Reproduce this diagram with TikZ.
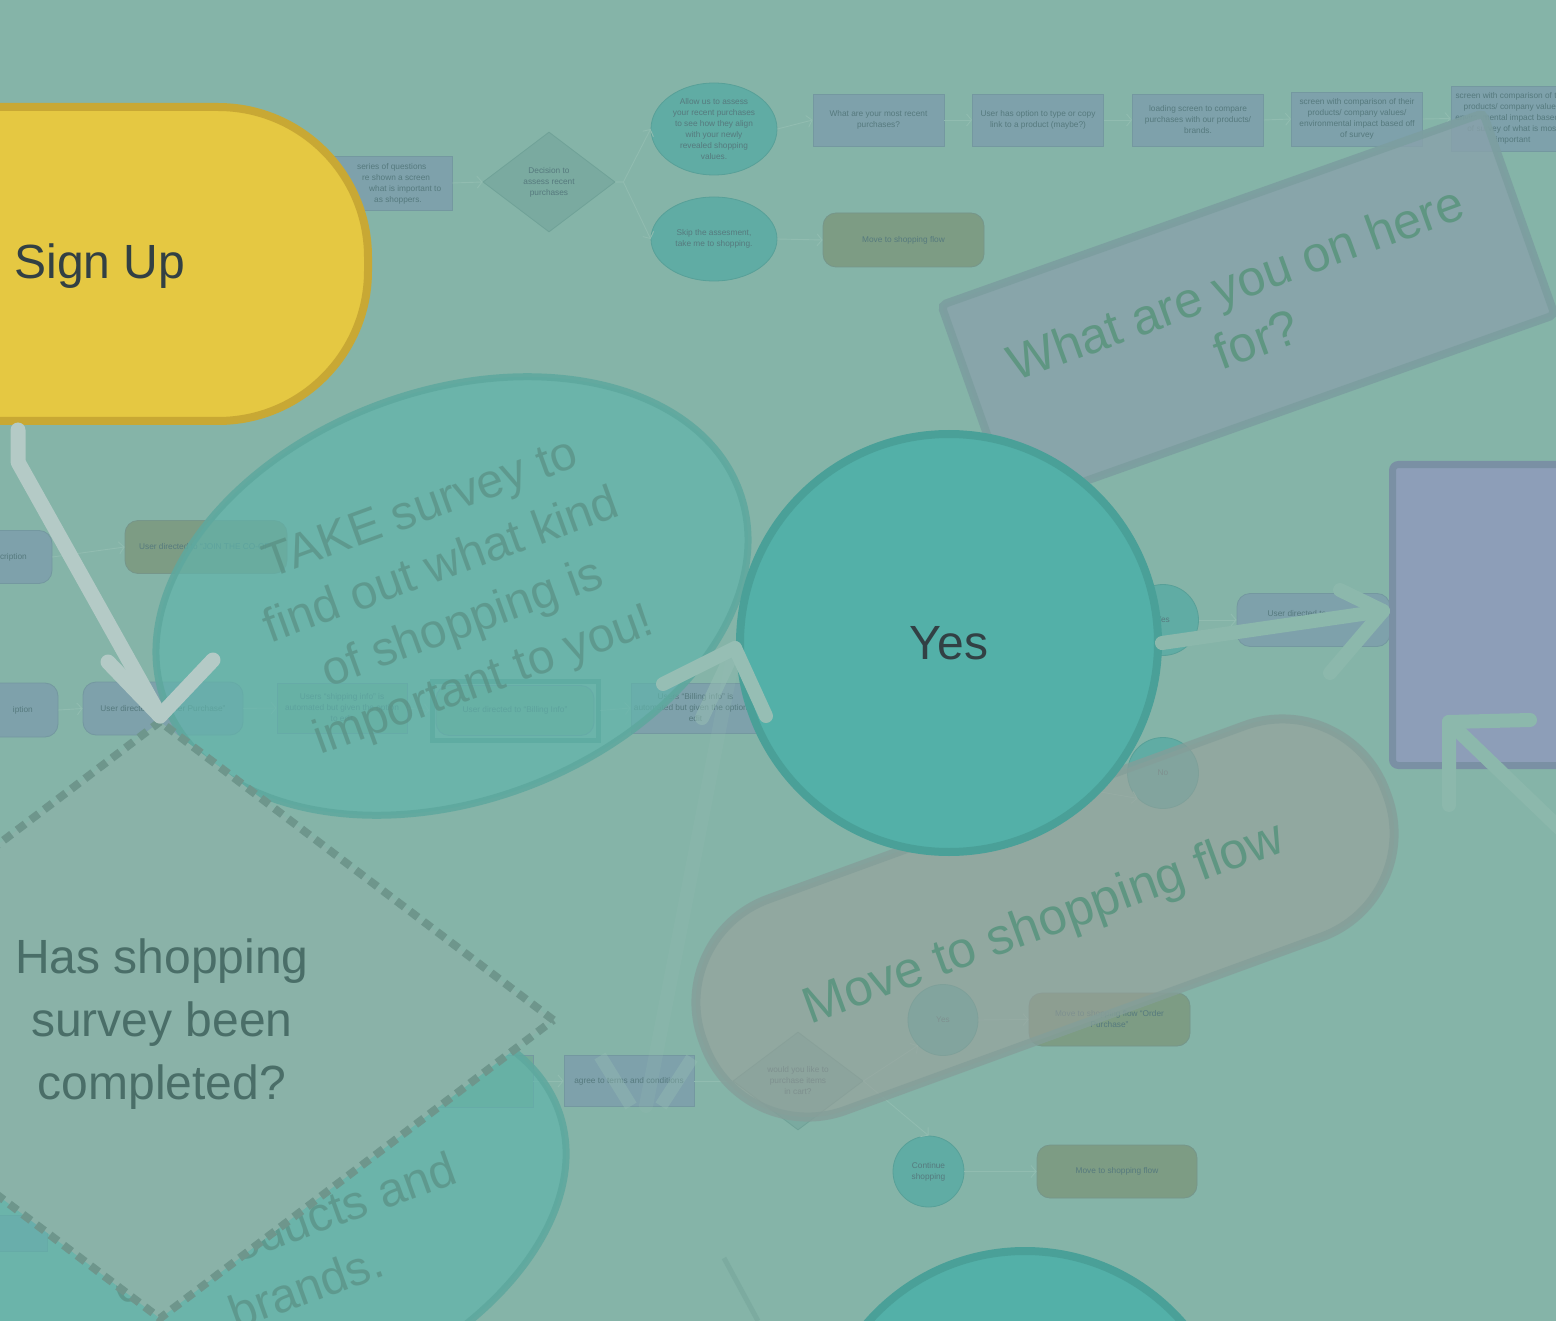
\documentclass[tikz,border=0pt]{standalone}
\usepackage{fontspec}
\setmainfont{Liberation Sans}
\usetikzlibrary{shapes.geometric,arrows.meta}
\definecolor{bgc}{RGB}{133,180,168}
\definecolor{sblue}{RGB}{126,161,171}
\definecolor{sblueln}{RGB}{116,152,160}
\definecolor{sgrnf}{RGB}{118,170,152}
\definecolor{solive}{RGB}{125,156,132}
\definecolor{soliveln}{RGB}{118,150,138}
\definecolor{steal}{RGB}{96,172,164}
\definecolor{stealln}{RGB}{88,160,152}
\definecolor{sdiam}{RGB}{122,170,160}
\definecolor{sdiamln}{RGB}{112,162,152}
\definecolor{stxt}{RGB}{86,122,126}
\definecolor{sarrc}{RGB}{145,188,176}
\definecolor{shl}{RGB}{92,156,142}
\definecolor{signfill}{RGB}{229,200,66}
\definecolor{signln}{RGB}{200,168,52}
\definecolor{yesfill}{RGB}{83,176,168}
\definecolor{yesln}{RGB}{74,160,152}
\definecolor{darktxt}{RGB}{50,64,68}
\definecolor{ellfill}{RGB}{97,180,171}
\definecolor{ellln}{RGB}{94,168,158}
\definecolor{ovtxt}{RGB}{88,140,128}
\definecolor{whatfill}{RGB}{137,162,171}
\definecolor{whatln}{RGB}{124,158,160}
\definecolor{movefill}{RGB}{153,160,155}
\definecolor{moveln}{RGB}{132,158,153}
\definecolor{movetxt}{RGB}{95,150,130}
\definecolor{diafill}{RGB}{138,178,168}
\definecolor{dialn}{RGB}{110,150,140}
\definecolor{diatxt}{RGB}{74,110,104}
\definecolor{bluefill}{RGB}{141,158,184}
\definecolor{blueln}{RGB}{122,144,164}
\definecolor{arrlight}{RGB}{180,202,198}
\definecolor{arrmid}{RGB}{150,190,180}
\definecolor{arrbg}{RGB}{140,184,172}
\definecolor{shadowc}{RGB}{118,166,155}
\begin{document}
\begin{tikzpicture}[x=1pt,y=-1pt,
  sm/.style={font=\fontsize{8.3}{11}\selectfont, text=stxt, align=center, inner sep=0pt},
  sbox/.style={sm, rectangle, draw=sblueln, fill=sblue, line width=0.8pt},
  sgrn/.style={sm, rectangle, draw=sblueln, fill=sgrnf, line width=0.8pt},
  sgrnrnd/.style={sm, rectangle, rounded corners=13pt, draw=sblueln, fill=sgrnf, line width=0.8pt},
  solv/.style={sm, rectangle, rounded corners=13pt, draw=soliveln, fill=solive, line width=0.8pt},
  srnd/.style={sm, rectangle, rounded corners=13pt, draw=sblueln, fill=sblue, line width=0.8pt},
  sell/.style={sm, ellipse, draw=stealln, fill=steal, line width=0.8pt},
  sdia/.style={sm, diamond, draw=sdiamln, fill=sdiam, line width=0.8pt},
  sarr/.style={draw=sarrc, line width=0.9pt, -{Straight Barb[length=5pt,width=12pt]}},
  sline/.style={draw=sarrc, line width=0.9pt},
  bigarrA/.style={draw=arrlight, line width=15pt, line cap=round, line join=round},
  bigarrB/.style={draw=arrmid, line width=14pt, line cap=round, line join=round},
  bigarrC/.style={draw=arrbg, line width=14pt, line cap=round, line join=round},
  bigtxt/.style={font=\fontsize{48}{63}\selectfont, align=center}
]
\useasboundingbox (0,0) rectangle (1556,1321);
\fill[bgc] (0,0) rectangle (1556,1321);

% ---------- background flowchart: top ----------
\node[sbox, minimum width=152pt, minimum height=54pt] (a1) at (376,183) {};
\node[sm, anchor=west] (a1l1) at (357,167) {series of questions};
\node[sm, anchor=west] (a1l2) at (362,178) {re shown a screen};
\node[sm, anchor=west] (a1l3) at (369,189) {what is important to};
\node[sm, anchor=west] (a1l4) at (374,200) {as shoppers.};
\node[sdia, minimum width=132pt, minimum height=100pt] (d1) at (549,182) {Decision to\\assess recent\\purchases};
\node[sell, minimum width=126pt, minimum height=92pt] (e1) at (714,129) {Allow us to assess\\your recent purchases\\to see how they align\\with your newly\\revealed shopping\\values.};
\node[sell, minimum width=126pt, minimum height=84pt] (e2) at (714,239) {Skip the assesment,\\take me to shopping.};
\node[sbox, minimum width=131pt, minimum height=52pt] (r1) at (878.5,120) {What are your most recent\\purchases?};
\node[sbox, minimum width=131pt, minimum height=52pt] (r2) at (1038,120) {User has option to type or copy\\link to a product (maybe?)};
\node[sbox, minimum width=131pt, minimum height=52pt] (r3) at (1198,120) {loading screen to compare\\purchases with our products/\\brands.};
\node[sbox, minimum width=131pt, minimum height=54pt] (r4) at (1357,119) {screen with comparison of their\\products/ company values/\\environmental impact based off\\of survey};
\node[sbox, minimum width=124pt, minimum height=65pt] (r5) at (1513,118.5) {screen with comparison of their\\products/ company values/\\environmental impact based off\\of survey of what is most\\important};
\node[solv, minimum width=161pt, minimum height=54pt] (o1) at (903.5,240) {Move to shopping flow};

\draw[sarr] (a1.east) -- (d1.west);
\draw[sarr] (d1.east) -- ++(8,0) -- (e1.west);
\draw[sarr] (d1.east) -- ++(8,0) -- (e2.west);
\draw[sarr] (e1.east) -- (r1.west);
\draw[sarr] (r1.east) -- (r2.west);
\draw[sarr] (r2.east) -- (r3.west);
\draw[sarr] (r3.east) -- (r4.west);
\draw[sarr] (r4.east) -- (r5.west);
\draw[sarr] (e2.east) -- (o1.west);

% ---------- background flowchart: middle ----------
\node[srnd, minimum width=90pt, minimum height=53pt] (m1) at (7,557) {};
\node[sm, anchor=east] (m1t) at (27,557) {cription};
\node[solv, minimum width=162pt, minimum height=53pt] (o2) at (206,547) {User directed to “JOIN THE CO-OP”};
\node[srnd, minimum width=96pt, minimum height=54pt] (m2) at (10,710) {};
\node[sm, anchor=east] (m2t) at (33,710) {iption};
\node[srnd, minimum width=160pt, minimum height=53pt] (rop) at (163,708.5) {User directed to “Order Purchase”};
\node[sgrn, minimum width=130pt, minimum height=50pt] (s1) at (342,708) {Users “shipping info” is\\automated but given the option\\to edit};
\node[draw=shl, line width=5pt, minimum width=166pt, minimum height=59pt, inner sep=0pt] (b1f) at (515,710.5) {};
\node[sgrnrnd, minimum width=158pt, minimum height=50pt] (b1) at (515,710.5) {User directed to “Billing Info”};
\node[sbox, minimum width=129pt, minimum height=50pt] (s2) at (695.5,708) {Users “Billing info” is\\automated but given the option to\\edit};
\draw[sarr] (m1.east) -- (o2.west);
\draw[sarr] (m2.east) -- (rop.west);
\draw[sarr] (rop.east) -- (s1.west);
\draw[sarr] (s1.east) -- (b1f.west);
\draw[sarr] (b1f.east) -- (s2.west);

\node[sell, minimum size=71pt] (sc1) at (1163,620) {Yes};
\node[srnd, minimum width=153pt, minimum height=53pt] (rud) at (1313.5,620) {};
\node[sm] (rudt) at (1297,614) {User directed to};
\node[sell, minimum size=71pt] (sc2) at (1163,773) {No};
\draw[sarr] (sc1.east) -- (rud.west);
\draw[sarr] (s2.south east) -- (sc2.south west);

% ---------- background flowchart: bottom ----------
\node[sgrn, minimum width=103pt, minimum height=52pt] (rg) at (481.5,1081) {};
\node[sbox, minimum width=130pt, minimum height=51pt] (rt) at (629,1081) {agree to terms and conditions};
\node[sdia, minimum width=130pt, minimum height=98pt] (d2) at (798,1081) {would you like to\\purchase items\\in cart?};
\node[sell, minimum width=70pt, minimum height=71pt] (sc3) at (943,1020) {Yes};
\node[solv, minimum width=161pt, minimum height=53pt] (o3) at (1109.5,1019.5) {Move to shopping flow “Order\\Purchase”};
\node[sell, minimum width=71pt, minimum height=71pt] (sc4) at (928.5,1171.5) {Continue\\shopping};
\node[solv, minimum width=160pt, minimum height=53pt] (o4) at (1117,1171.5) {Move to shopping flow};
\node[sbox, minimum width=70pt, minimum height=36pt] (lb) at (12,1233) {};
\draw[sarr] (rg.east) -- (rt.west);
\draw[sline] (rt.east) -- (d2.west);
\draw[sarr] (d2.east) -- (sc3.south west);
\draw[sarr] (d2.east) -- (sc4.north);
\draw[sarr] (sc3.east) -- (o3.west);
\draw[sarr] (sc4.east) -- (o4.west);

% ---------- large overlay shapes ----------
\node[ellipse, draw=ellln, fill=ellfill, fill opacity=.7, draw opacity=.85, line width=7pt, minimum width=610pt, minimum height=384pt, inner sep=0pt, rotate=20] (bell) at (272,1215) {};
\node[rotate=20, text=ovtxt, text opacity=.65, bigtxt] (bellt) at (295,1257) {our products and\\brands.};

\node[ellipse, draw=ellln, fill=ellfill, fill opacity=.7, draw opacity=.85, line width=7pt, minimum width=612pt, minimum height=410pt, inner sep=0pt, rotate=20] (take) at (452,596) {};
\node[rotate=20, text=ovtxt, text opacity=.65, font=\fontsize{48}{61}\selectfont, align=center] (taket) at (453,597) {TAKE survey to\\find out what kind\\of shopping is\\important to you!};

\node[rectangle, rounded corners=5pt, draw=whatln, fill=whatfill, fill opacity=.8, draw opacity=.9, line width=8pt, minimum width=575pt, minimum height=214pt, inner sep=0pt, rotate=19.5] (what) at (1248,310) {};
\node[rotate=20, text=movetxt, font=\fontsize{50}{60}\selectfont, align=center] (whatt) at (1246,311) {What are you on here\\for?};

\node[rectangle, rounded corners=110pt, draw=moveln, fill=movefill, fill opacity=.6, draw opacity=.8, line width=9pt, minimum width=727pt, minimum height=225pt, inner sep=0pt, rotate=20] (move) at (1045,918) {};
\node[rotate=20, text=movetxt, font=\fontsize{51}{60}\selectfont] (movet) at (1044,925) {Move to shopping flow};

\node[rectangle, rounded corners=6pt, draw=blueln, fill=bluefill, line width=7pt, minimum width=200pt, minimum height=301pt, inner sep=0pt, anchor=north west] (bluebox) at (1389,461) {};

\node[rectangle, rounded corners=150pt, draw=signln, fill=signfill, line width=8pt, minimum width=568pt, minimum height=314pt, inner sep=0pt] (signup) at (84,264) {};
\node[text=darktxt, bigtxt, anchor=west] (signt) at (11,266) {Sign Up};

\node[circle, draw=yesln, fill=yesfill, line width=8pt, minimum size=418pt, inner sep=0pt, text=darktxt, bigtxt] (yes) at (949,643) {Yes};
\node[circle, draw=yesln, fill=yesfill, line width=8pt, minimum size=418pt, inner sep=0pt] (bcirc) at (1025,1460) {};

\node[diamond, draw=dialn, fill=diafill, line width=8pt, dash pattern=on 10pt off 7pt, minimum width=790pt, minimum height=600pt, inner sep=0pt] (hs) at (160,1020) {};
\node[text=diatxt, bigtxt] (hst) at (162,1024) {Has shopping\\survey been\\completed?};

% ---------- big arrows ----------
\coordinate (su0) at (18,430);
\draw[bigarrA] (su0) -- (18,462) -- (hs.north);
\draw[bigarrA] (108,662) -- (hs.north) -- (213,660);

\coordinate (ufrom) at (646,1106);
\coordinate (utip) at (735,648);
\draw[bigarrB, draw opacity=.18] (ufrom) -- (utip);
\draw[bigarrB, draw opacity=.55] (utip) -- (702,718);
\draw[arrmid, line width=13pt, draw opacity=.4] (600,1056) -- (631,1106);
\draw[arrmid, line width=13pt, draw opacity=.4] (692,1058) -- (661,1106);
\draw[bigarrB] (663,684) -- (utip) -- (766,716);
\draw[shadowc, line width=5pt, draw opacity=.6] (724,1258) -- (758,1321);

\coordinate (rtip) at (1383,611);
\draw[bigarrC] (yes.east) -- (rtip);
\draw[bigarrC] (1340,590) -- (rtip) -- (1330,673);

\coordinate (btip) at (1449,722);
\coordinate (bfrom) at (1580,848);
\draw[bigarrC] (bfrom) -- (btip);
\draw[bigarrC] (1530,720) -- (btip) -- (1449,805);
\end{tikzpicture}
\end{document}
